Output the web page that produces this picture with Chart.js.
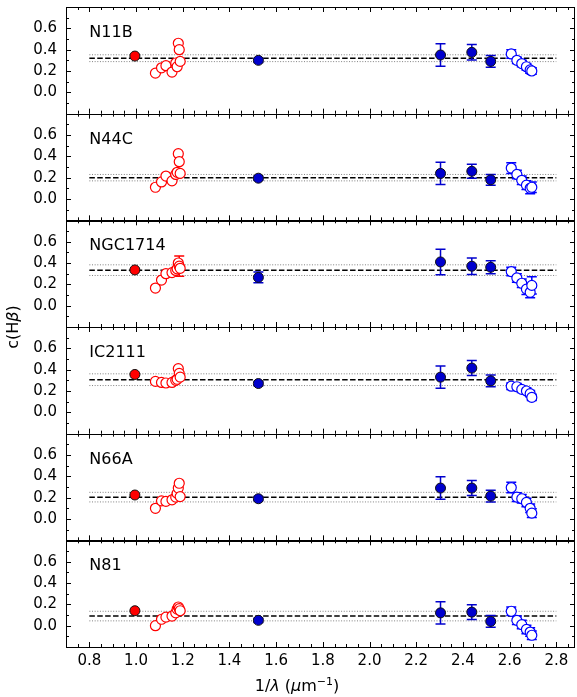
<!DOCTYPE html>
<html>
<head>
<meta charset="utf-8">
<script src="https://cdn.jsdelivr.net/npm/chart.js@4.4.0/dist/chart.umd.min.js"></script>
<style>
  html, body { margin: 0; padding: 0; background: #fff; overflow: hidden; }
  canvas { display: block; }
</style>
</head>
<body>
<canvas id="cHbChart" width="577" height="697"></canvas>
<script>
const panelNames = ['N11B', 'N44C', 'NGC1714', 'IC2111', 'N66A', 'N81'];

// mean c(Hb) per region and its spread (dashed / dotted lines)
const meanC  = [0.320, 0.200, 0.333, 0.306, 0.205, 0.090];
const sigmaC = [0.032, 0.030, 0.050, 0.055, 0.045, 0.045];
const lineFrom = 0.8;
const lineTo = 2.8;

// P-delta, red filled
const pdX = 0.995;
const pdC = [0.34, null, 0.335, 0.355, 0.225, 0.14];

// Paschen series, red open
const paschenX = [1.083, 1.109, 1.128, 1.154, 1.170, 1.176, 1.181, 1.185, 1.189];
const paschenC = [
  [0.18, 0.23, 0.25, 0.19, 0.275, 0.24, 0.46, 0.40, 0.29],
  [0.11, 0.16, 0.215, 0.17, 0.23, 0.25, 0.425, 0.35, 0.24],
  [0.165, 0.24, 0.30, 0.31, 0.33, 0.345, 0.40, 0.37, 0.35],
  [0.29, 0.28, 0.275, 0.28, 0.30, 0.31, 0.41, 0.365, 0.33],
  [0.10, 0.17, 0.165, 0.18, 0.205, 0.24, 0.29, 0.335, 0.21],
  [0.00, 0.06, 0.08, 0.09, 0.12, 0.155, 0.175, 0.16, 0.14]
];
const paschenErr = [
  [0, 0, 0, 0, 0, 0, 0, 0, 0],
  [0, 0, 0, 0, 0, 0, 0, 0, 0],
  [0, 0, 0, 0, 0, 0, 0, 0.095, 0],
  [0, 0, 0, 0, 0, 0, 0, 0, 0],
  [0, 0, 0, 0, 0, 0, 0, 0, 0],
  [0, 0, 0, 0, 0, 0, 0, 0, 0]
];

// Ha, Hg, Hd, He, blue filled
const balmerX = [1.524, 2.304, 2.438, 2.519];
const balmerC = [
  [0.30, 0.35, 0.375, 0.29],
  [0.195, 0.24, 0.26, 0.18],
  [0.265, 0.41, 0.37, 0.36],
  [0.27, 0.33, 0.415, 0.295],
  [0.19, 0.29, 0.29, 0.215],
  [0.05, 0.12, 0.127, 0.04]
];
const balmerErr = [
  [0.02, 0.105, 0.073, 0.055],
  [0.02, 0.105, 0.065, 0.05],
  [0.05, 0.12, 0.078, 0.06],
  [0.02, 0.105, 0.07, 0.055],
  [0.02, 0.105, 0.07, 0.055],
  [0.02, 0.105, 0.07, 0.055]
];

// higher Balmer lines, blue open
const highX = [2.607, 2.631, 2.652, 2.672, 2.688, 2.695];
const highC = [
  [0.36, 0.30, 0.27, 0.24, 0.21, 0.20],
  [0.29, 0.23, 0.175, 0.13, 0.10, 0.11],
  [0.32, 0.26, 0.21, 0.155, 0.125, 0.19],
  [0.245, 0.24, 0.215, 0.20, 0.175, 0.14],
  [0.295, 0.205, 0.19, 0.155, 0.10, 0.055],
  [0.135, 0.05, 0.01, -0.035, -0.06, -0.09]
];
const highErr = [
  [0.04, 0.03, 0.03, 0.03, 0.03, 0.03],
  [0.05, 0.04, 0.04, 0.04, 0.05, 0.05],
  [0.04, 0.04, 0.04, 0.05, 0.05, 0.08],
  [0.03, 0.03, 0.03, 0.03, 0.03, 0.03],
  [0.05, 0.04, 0.04, 0.04, 0.04, 0.04],
  [0.04, 0.04, 0.04, 0.04, 0.04, 0.04]
];

const xTickVals = [0.8, 1.0, 1.2, 1.4, 1.6, 1.8, 2.0, 2.2, 2.4, 2.6, 2.8];
const yTickVals = [0.0, 0.2, 0.4, 0.6];

const RED = '#ff0000';
const BLUE = '#0000cd';
const OPEN_BLUE = '#0000ff';
const FONT = 'DejaVu Sans';
const R = 5;

function pts(xs, ys) {
  const out = [];
  xs.forEach((x, i) => {
    if (ys[i] !== null && ys[i] !== undefined) out.push({x: x, y: ys[i]});
  });
  return out;
}

const datasets = [];
panelNames.forEach((name, p) => {
  const axis = 'y' + p;
  const hl = (y, dash, color, width) => ({
    type: 'line',
    data: [{x: lineFrom, y: y}, {x: lineTo, y: y}],
    yAxisID: axis,
    borderColor: color,
    borderWidth: width,
    borderDash: dash,
    pointRadius: 0,
    fill: false,
    order: 10
  });
  datasets.push(hl(meanC[p], [5.5, 2.4], '#000', 1.5));
  datasets.push(hl(meanC[p] + sigmaC[p], [1, 1.65], '#808080', 1));
  datasets.push(hl(meanC[p] - sigmaC[p], [1, 1.65], '#808080', 1));

  datasets.push({
    data: pts(balmerX, balmerC[p]),
    errors: balmerErr[p],
    errColor: BLUE,
    yAxisID: axis,
    pointRadius: R,
    pointBackgroundColor: BLUE,
    pointBorderColor: '#101010',
    pointBorderWidth: 1,
    order: 4
  });
  datasets.push({
    data: pts(highX, highC[p]),
    errors: highErr[p],
    errColor: OPEN_BLUE,
    yAxisID: axis,
    pointRadius: R,
    pointBackgroundColor: '#fff',
    pointBorderColor: OPEN_BLUE,
    pointBorderWidth: 1.2,
    order: 3
  });
  datasets.push({
    data: pts(paschenX, paschenC[p]),
    errors: paschenErr[p],
    errColor: RED,
    yAxisID: axis,
    pointRadius: R,
    pointBackgroundColor: '#fff',
    pointBorderColor: RED,
    pointBorderWidth: 1.2,
    order: 2
  });
  datasets.push({
    data: pts([pdX], [pdC[p]]),
    yAxisID: axis,
    pointRadius: R,
    pointBackgroundColor: RED,
    pointBorderColor: '#101010',
    pointBorderWidth: 1,
    order: 1
  });
});

const scales = {
  x: {
    type: 'linear',
    position: 'bottom',
    min: 0.7,
    max: 2.88,
    grid: {display: false, drawTicks: false},
    border: {display: false},
    ticks: {
      color: '#000',
      font: {family: FONT, size: 15},
      padding: 5,
      autoSkip: false,
      maxRotation: 0,
      callback: v => v.toFixed(1)
    },
    afterBuildTicks: s => { s.ticks = xTickVals.map(v => ({value: v})); },
    afterFit: s => { s.height = 50; s.paddingLeft = 0; s.paddingRight = 0; }
  }
};
// stacked axes are laid out bottom-up, so define the lowest panel first
for (let p = panelNames.length - 1; p >= 0; p--) {
  scales['y' + p] = {
    type: 'linear',
    position: 'left',
    stack: 'panels',
    stackWeight: 1,
    min: -0.2,
    max: 0.8,
    grid: {display: false, drawTicks: false},
    border: {display: false},
    ticks: {
      color: '#000',
      font: {family: FONT, size: 15},
      padding: 9,
      autoSkip: false,
      callback: v => v.toFixed(1)
    },
    afterBuildTicks: s => { s.ticks = yTickVals.map(v => ({value: v})); },
    afterFit: s => { s.width = 40; s.paddingTop = 0; s.paddingBottom = 0; }
  };
}

// error bars, frames, inward ticks and labels
const panelDecor = {
  id: 'panelDecor',
  beforeDatasetDraw(chart, args) {
    const ds = chart.data.datasets[args.index];
    if (!ds.errors) return;
    const ctx = chart.ctx;
    const xs = chart.scales.x;
    const ys = chart.scales[ds.yAxisID];
    ctx.save();
    ctx.strokeStyle = ds.errColor;
    ctx.lineWidth = 1.5;
    ds.data.forEach((pt, i) => {
      const e = ds.errors[i];
      if (!e) return;
      const px = xs.getPixelForValue(pt.x);
      const y1 = ys.getPixelForValue(pt.y + e);
      const y2 = ys.getPixelForValue(pt.y - e);
      ctx.beginPath();
      ctx.moveTo(px, y1); ctx.lineTo(px, y2);
      ctx.moveTo(px - 5, y1); ctx.lineTo(px + 5, y1);
      ctx.moveTo(px - 5, y2); ctx.lineTo(px + 5, y2);
      ctx.stroke();
    });
    ctx.restore();
  },
  afterDraw(chart) {
    const ctx = chart.ctx;
    const xs = chart.scales.x;
    const {left, right} = chart.chartArea;
    ctx.save();
    ctx.strokeStyle = '#000';
    ctx.lineWidth = 1;
    panelNames.forEach((name, p) => {
      const ys = chart.scales['y' + p];
      const top = ys.top, bottom = ys.bottom;
      ctx.beginPath();
      for (let k = 14; k <= 57; k++) {
        const x = Math.round(xs.getPixelForValue(k * 0.05)) + 0.5;
        const len = (k % 4 === 0) ? 5 : 3;
        ctx.moveTo(x, top); ctx.lineTo(x, top + len);
        ctx.moveTo(x, bottom); ctx.lineTo(x, bottom - len);
      }
      for (let k = -1; k <= 7; k++) {
        const y = Math.round(ys.getPixelForValue(k * 0.1)) + 0.5;
        const len = (k % 2 === 0) ? 5 : 3;
        ctx.moveTo(left, y); ctx.lineTo(left + len, y);
        ctx.moveTo(right, y); ctx.lineTo(right - len, y);
      }
      ctx.stroke();
      ctx.strokeRect(Math.round(left) + 0.5, Math.round(top) + 0.5,
        Math.round(right - left) - 1, Math.round(bottom - top));

      ctx.fillStyle = '#000';
      ctx.font = '16px "' + FONT + '"';
      ctx.textAlign = 'left';
      ctx.textBaseline = 'alphabetic';
      ctx.fillText(name, xs.getPixelForValue(0.8), ys.getPixelForValue(0.52));
    });

    // y title c(Hb)
    ctx.save();
    ctx.translate(14, (chart.chartArea.top + chart.chartArea.bottom) / 2);
    ctx.rotate(-Math.PI / 2);
    ctx.textBaseline = 'middle';
    ctx.textAlign = 'left';
    const up = '16px "' + FONT + '"';
    const it = 'italic 16px "' + FONT + '"';
    const yParts = [['c(H', up], ['\u03b2', it], [')', up]];
    let w = 0;
    yParts.forEach(pp => { ctx.font = pp[1]; w += ctx.measureText(pp[0]).width; });
    let cx = -w / 2;
    yParts.forEach(pp => { ctx.font = pp[1]; ctx.fillText(pp[0], cx, 0); cx += ctx.measureText(pp[0]).width; });
    ctx.restore();

    // x title 1/lambda (um^-1)
    const sup = '11px "' + FONT + '"';
    const xParts = [['1/', up, 0], ['\u03bb', it, 0], [' (', up, 0], ['\u03bc', it, 0], ['m', up, 0], ['\u22121', sup, -6], [')', up, 0]];
    ctx.textBaseline = 'alphabetic';
    ctx.textAlign = 'left';
    w = 0;
    xParts.forEach(pp => { ctx.font = pp[1]; w += ctx.measureText(pp[0]).width; });
    cx = 297 - w / 2;
    const by = 691;
    xParts.forEach(pp => { ctx.font = pp[1]; ctx.fillText(pp[0], cx, by + pp[2]); cx += ctx.measureText(pp[0]).width; });
    ctx.restore();
  }
};

new Chart(document.getElementById('cHbChart').getContext('2d'), {
  type: 'scatter',
  data: {datasets: datasets},
  options: {
    responsive: false,
    animation: false,
    devicePixelRatio: 1,
    layout: {autoPadding: false, padding: {left: 26, right: 2, top: 7, bottom: 0}},
    plugins: {
      legend: {display: false},
      tooltip: {enabled: false},
      title: {display: false}
    },
    scales: scales
  },
  plugins: [panelDecor]
});
</script>
</body>
</html>
